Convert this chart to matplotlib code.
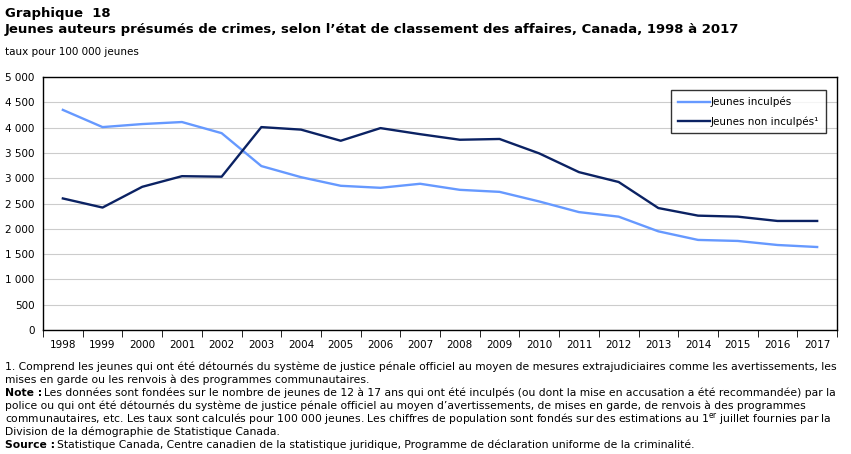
import matplotlib
matplotlib.use("Agg")
import matplotlib.pyplot as plt
import numpy as np

# données
annees = [str(a) for a in range(1998, 2018)]
inculpes = [4350, 4010, 4070, 4110, 3890, 3240, 3020, 2850, 2810, 2890,
            2770, 2730, 2540, 2330, 2240, 1950, 1780, 1760, 1680, 1640]
non_inculpes = [2600, 2420, 2830, 3040, 3030, 4010, 3960, 3740, 3990, 3870,
                3760, 3775, 3490, 3120, 2925, 2410, 2260, 2240, 2155, 2155]
yticks = list(range(0, 5001, 500))
ylabels = ["0", "500", "1 000", "1 500", "2 000", "2 500", "3 000", "3 500", "4 000", "4 500", "5 000"]

plt.rcParams['font.family'] = ['DejaVu Sans']
W, H = 851, 454
fig = plt.figure(figsize=(W / 100, H / 100), dpi=100)
ax = fig.add_axes([43 / W, 1 - 330 / H, (837 - 43) / W, (330 - 77) / H])

x = np.arange(len(annees))
ax.plot(x, inculpes, color='#6699FF', lw=1.7, label='Jeunes inculpés')
ax.plot(x, non_inculpes, color='#0B2263', lw=1.7, label='Jeunes non inculpés¹')

ax.set_xlim(-0.5, len(annees) - 0.5)
ax.set_ylim(0, 5000)
ax.set_yticks(yticks)
ax.set_yticklabels(ylabels, fontsize=7.5)
ax.tick_params(axis='y', length=0, pad=6)
ax.set_xticks(x)
ax.set_xticklabels(annees, fontsize=7.5)
ax.set_xticks(np.arange(-0.5, len(annees)), minor=True)
ax.tick_params(axis='x', which='major', length=0, pad=7)
ax.tick_params(axis='x', which='minor', length=5, color='black')
ax.grid(axis='y', color='#cccccc', lw=0.8)
ax.set_axisbelow(True)
for s in ax.spines.values():
    s.set_color('black')
    s.set_linewidth(1)

leg = ax.legend(loc='upper right', bbox_to_anchor=(826 / W, 1 - 90 / H), bbox_transform=fig.transFigure,
                fontsize=7.5, frameon=True, fancybox=False, edgecolor='black', borderaxespad=0,
                handlelength=3.1, handletextpad=0.1, borderpad=0.65, labelspacing=0.85)
leg.get_frame().set_linewidth(1)

fig.text(5 / W, 1 - 14 / H, "Graphique  18", fontsize=9.5, fontweight='bold', va='center')
fig.text(5 / W, 1 - 30 / H, "Jeunes auteurs présumés de crimes, selon l’état de classement des affaires, Canada, 1998 à 2017",
         fontsize=9.5, fontweight='bold', va='center')
fig.text(5 / W, 1 - 52 / H, "taux pour 100 000 jeunes", fontsize=7.5, va='center')

fs = 7.75
renderer = fig.canvas.get_renderer()


def ligne(y, texte, gras=None):
    x0 = 5
    if gras:
        t = fig.text(x0 / W, 1 - y / H, gras, fontsize=fs, fontweight='bold', va='center')
        bb = t.get_window_extent(renderer)
        x0 = bb.x1 + 2
    fig.text(x0 / W, 1 - y / H, texte, fontsize=fs, va='center')


lignes = [
    (367, "1. Comprend les jeunes qui ont été détournés du système de justice pénale officiel au moyen de mesures extrajudiciaires comme les avertissements, les", None),
    (380, "mises en garde ou les renvois à des programmes communautaires.", None),
    (393, "Les données sont fondées sur le nombre de jeunes de 12 à 17 ans qui ont été inculpés (ou dont la mise en accusation a été recommandée) par la", "Note :"),
    (406, "police ou qui ont été détournés du système de justice pénale officiel au moyen d’avertissements, de mises en garde, de renvois à des programmes", None),
    (419, "communautaires, etc. Les taux sont calculés pour 100 000 jeunes. Les chiffres de population sont fondés sur des estimations au 1$^{\\rm er}$ juillet fournies par la", None),
    (432, "Division de la démographie de Statistique Canada.", None),
    (445, "Statistique Canada, Centre canadien de la statistique juridique, Programme de déclaration uniforme de la criminalité.", "Source :"),
]
for y, t, g in lignes:
    ligne(y, t, g)

fig.savefig("out.png", dpi=100)
